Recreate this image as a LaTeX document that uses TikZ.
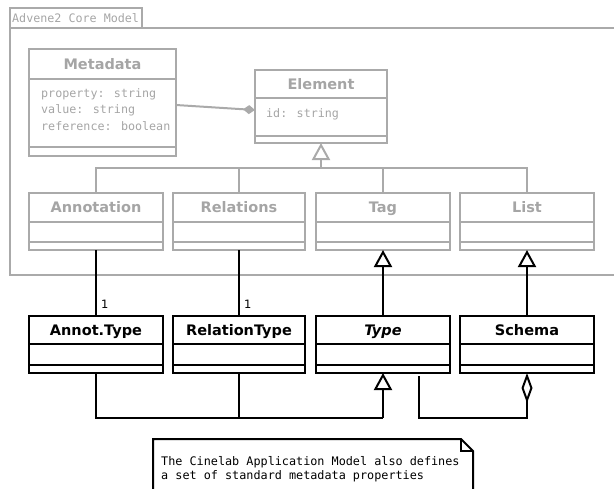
\documentclass[tikz,border=0pt]{standalone}
\usepackage{fontspec}
\setmainfont{DejaVu Sans}
\newfontfamily\monof{DejaVu Sans Mono}
\usetikzlibrary{arrows.meta,calc}
\definecolor{umlgray}{RGB}{170,170,170}
\definecolor{umltext}{RGB}{165,165,165}
\tikzset{
  graybox/.style={draw=umlgray, line width=2pt, inner sep=0pt, outer sep=0pt},
  blackbox/.style={draw=black, line width=2pt, inner sep=0pt, outer sep=0pt},
  grayline/.style={draw=umlgray, line width=2pt},
  blackline/.style={draw=black, line width=2pt},
  graytitle/.style={font=\fontsize{14.5}{17}\selectfont\bfseries, text=umltext, text height=10.5pt, text depth=0pt, inner sep=0pt},
  blacktitle/.style={font=\fontsize{14.5}{17}\selectfont\bfseries, text=black, text height=10.5pt, text depth=0pt, inner sep=0pt},
  attr/.style={font=\monof\fontsize{11.7}{14}\selectfont, text=umltext, anchor=base west, inner sep=0pt},
  gen/.style={-{Triangle[open, length=17pt, width=18pt]}},
  mult/.style={font=\fontsize{11.5}{13}\selectfont, anchor=west, inner sep=0pt, xshift=4pt},
}
\newcommand\umlclass[9]{%
  \node[#2box, minimum width=#5pt, minimum height=#6pt, anchor=north west] (#1) at (#3,#4) {};
  \draw[#2line] ([yshift=-#7pt]#1.north west) -- ([yshift=-#7pt]#1.north east);
  \draw[#2line] ([yshift=-#8pt]#1.north west) -- ([yshift=-#8pt]#1.north east);
  \node[#2title] (#1-t) at ([yshift={-#7pt/2}]#1.north) {#9};
}
\begin{document}
\begin{tikzpicture}[x=1pt, y=-1pt]
\useasboundingbox (0,0) rectangle (614,488);
\clip (0,0) rectangle (614,488);

% package
\node[graybox, anchor=north west, minimum width=132pt, minimum height=20pt] (pkg) at (10,8) {};
\node[attr] (pkg-t) at (12,22.5) {Advene2 Core Model};
\coordinate (frameBR) at (640,275);
\draw[grayline] (pkg.south west) rectangle (frameBR);

% gray classes
\umlclass{md}{gray}{29}{49}{147}{107}{30}{98}{Metadata}
\node[attr] (md-a1) at (41,97) {property: string};
\node[attr] (md-a2) at (41,113.5) {value: string};
\node[attr] (md-a3) at (41,130) {reference: boolean};
\umlclass{el}{gray}{255}{70}{132}{73}{28}{66}{Element}
\node[attr] (el-a1) at (266,117) {id: string};
\umlclass{ann}{gray}{29}{193}{134}{57}{29}{49}{Annotation}
\umlclass{rel}{gray}{173}{193}{132}{57}{29}{49}{Relations}
\umlclass{tag}{gray}{316}{193}{134}{57}{29}{49}{Tag}
\umlclass{lst}{gray}{460}{193}{134}{57}{29}{49}{List}

% black classes
\umlclass{atyp}{black}{29}{316}{134}{57}{28}{49}{Annot.Type}
\umlclass{rtyp}{black}{173}{316}{132}{57}{28}{49}{RelationType}
\umlclass{typ}{black}{316}{316}{134}{57}{28}{49}{\itshape Type}
\umlclass{sch}{black}{460}{316}{134}{57}{28}{49}{Schema}

% gray connectors
\draw[grayline, -{Diamond[length=12pt, width=9pt]}] ([yshift=-2.5pt]md.east) -- ([yshift=-3.5pt]el.west);
\coordinate (elbus) at (321,168);
\draw[grayline, gen] (elbus) -- (el.south);
\draw[grayline] (ann.north) |- (elbus);
\draw[grayline] (lst.north) |- (elbus);
\draw[grayline] (rel.north) -- (rel.north |- elbus);
\draw[grayline] (tag.north) -- (tag.north |- elbus);

% black connectors
\draw[blackline] (ann.south) -- node[mult, pos=0.83] {1} (atyp.north);
\draw[blackline] (rel.south) -- node[mult, pos=0.83] {1} (rtyp.north);
\draw[blackline, gen] (typ.north) -- (tag.south);
\draw[blackline, gen] (sch.north) -- (lst.south);

\coordinate (bbus) at (383,418);
\draw[blackline] (atyp.south) |- (bbus);
\draw[blackline] (rtyp.south) -- (rtyp.south |- bbus);
\draw[blackline, gen] (bbus) -- (typ.south);

\coordinate (tyout) at (419,376);
\coordinate (sbus) at (419,418);
\draw[blackline, -{Diamond[open, length=30pt, width=11pt]}] (tyout) -- (sbus) -| (sch.south);

% note
\coordinate (nBL) at (153,495);
\coordinate (nTL) at (153,439);
\coordinate (nF1) at (461,439);
\coordinate (nF2) at (473,451);
\coordinate (nFc) at (461,451);
\coordinate (nBR) at (473,495);
\draw[blackline] (nBL) -- (nTL) -- (nF1) -- (nF2) -- (nBR);
\draw[black, line width=1.2pt] (nF1) -- (nFc) -- (nF2);
\node[anchor=north west, inner sep=0pt, align=left, font=\monof\fontsize{11.8}{14.5}\selectfont] (note) at (161,456)
  {The Cinelab Application Model also defines\\a set of standard metadata properties};
\end{tikzpicture}
\end{document}
